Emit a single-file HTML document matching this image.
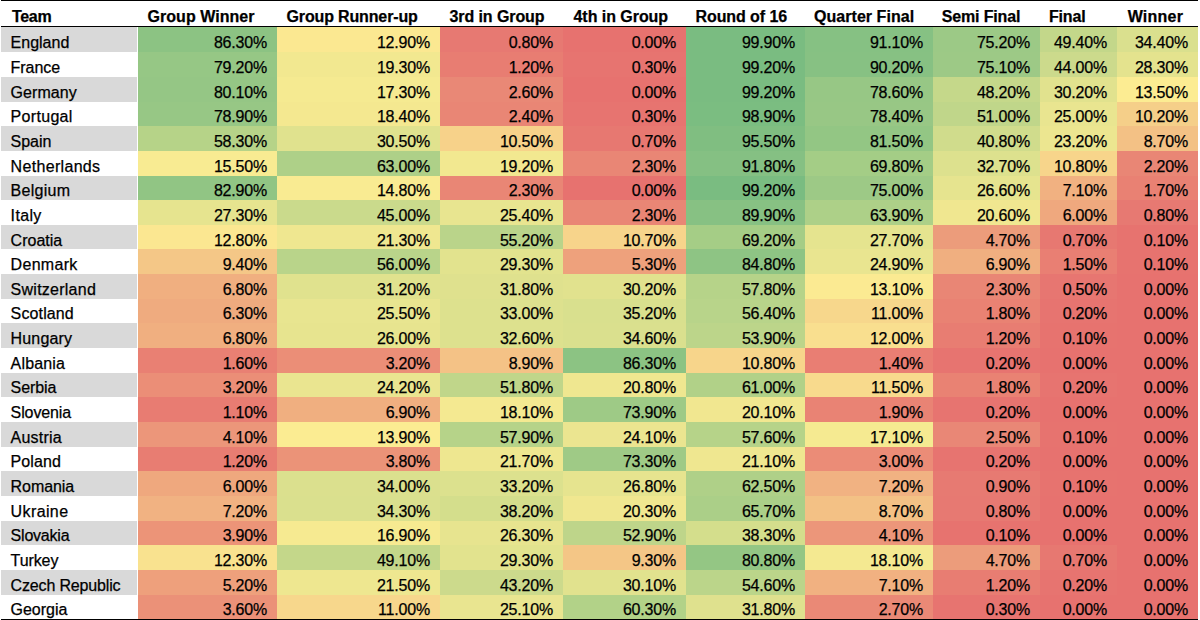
<!DOCTYPE html>
<html><head><meta charset="utf-8"><style>
html,body{margin:0;padding:0;background:#fff;}
body{width:1200px;height:620px;overflow:hidden;position:relative;font-family:"Liberation Sans",sans-serif;color:#000;}
.c{position:absolute;}
.t{position:absolute;font-size:16px;line-height:16px;white-space:nowrap;letter-spacing:-0.2px;-webkit-text-stroke:0.25px #000;}
.h{font-weight:bold;letter-spacing:-0.18px;}
.r{text-align:right;}
.ln{position:absolute;background:#000;}
</style></head><body>

<div class="t h" style="left:11.9px;top:9px;letter-spacing:-0.280px">Team</div>
<div class="t h" style="left:147.5px;top:9px;letter-spacing:0.047px">Group Winner</div>
<div class="t h" style="left:286.5px;top:9px;letter-spacing:-0.144px">Group Runner-up</div>
<div class="t h" style="left:449.5px;top:9px;letter-spacing:-0.089px">3rd in Group</div>
<div class="t h" style="left:573.5px;top:9px;letter-spacing:-0.044px">4th in Group</div>
<div class="t h" style="left:695.5px;top:9px;letter-spacing:-0.080px">Round of 16</div>
<div class="t h" style="left:814px;top:9px;letter-spacing:0.045px">Quarter Final</div>
<div class="t h" style="left:941.7px;top:9px;letter-spacing:-0.147px">Semi Final</div>
<div class="t h" style="left:1049px;top:9px;letter-spacing:-0.180px">Final</div>
<div class="t h" style="left:1127.7px;top:9px;letter-spacing:0.220px">Winner</div>
<div class="c" style="left:1px;top:27px;width:136px;height:25px;background:#d9d9d9"></div>
<div class="c" style="left:138px;top:27px;width:139px;height:25px;background:#8cc383"></div>
<div class="c" style="left:277px;top:27px;width:163px;height:25px;background:#fbe891"></div>
<div class="c" style="left:440px;top:27px;width:123px;height:25px;background:#e77972"></div>
<div class="c" style="left:563px;top:27px;width:123px;height:25px;background:#e7726f"></div>
<div class="c" style="left:686px;top:27px;width:119px;height:25px;background:#7abc81"></div>
<div class="c" style="left:805px;top:27px;width:128px;height:25px;background:#86c183"></div>
<div class="c" style="left:933px;top:27px;width:107px;height:25px;background:#9cc986"></div>
<div class="c" style="left:1040px;top:27px;width:77px;height:25px;background:#c3d78a"></div>
<div class="c" style="left:1117px;top:27px;width:81px;height:25px;background:#dae08e"></div>
<div class="c" style="left:1px;top:52px;width:136px;height:25px;background:#ffffff"></div>
<div class="c" style="left:138px;top:52px;width:139px;height:25px;background:#96c785"></div>
<div class="c" style="left:277px;top:52px;width:163px;height:25px;background:#f2e890"></div>
<div class="c" style="left:440px;top:52px;width:123px;height:25px;background:#e87d72"></div>
<div class="c" style="left:563px;top:52px;width:123px;height:25px;background:#e77470"></div>
<div class="c" style="left:686px;top:52px;width:119px;height:25px;background:#7abc81"></div>
<div class="c" style="left:805px;top:52px;width:128px;height:25px;background:#87c183"></div>
<div class="c" style="left:933px;top:52px;width:107px;height:25px;background:#9dc986"></div>
<div class="c" style="left:1040px;top:52px;width:77px;height:25px;background:#ccda8c"></div>
<div class="c" style="left:1117px;top:52px;width:81px;height:25px;background:#e4e38e"></div>
<div class="c" style="left:1px;top:77px;width:136px;height:25px;background:#d9d9d9"></div>
<div class="c" style="left:138px;top:77px;width:139px;height:25px;background:#95c685"></div>
<div class="c" style="left:277px;top:77px;width:163px;height:25px;background:#f5ea91"></div>
<div class="c" style="left:440px;top:77px;width:123px;height:25px;background:#e98876"></div>
<div class="c" style="left:563px;top:77px;width:123px;height:25px;background:#e7726f"></div>
<div class="c" style="left:686px;top:77px;width:119px;height:25px;background:#7abc81"></div>
<div class="c" style="left:805px;top:77px;width:128px;height:25px;background:#97c785"></div>
<div class="c" style="left:933px;top:77px;width:107px;height:25px;background:#c5d88a"></div>
<div class="c" style="left:1040px;top:77px;width:77px;height:25px;background:#e1e28e"></div>
<div class="c" style="left:1117px;top:77px;width:81px;height:25px;background:#fcec92"></div>
<div class="c" style="left:1px;top:102px;width:136px;height:24px;background:#ffffff"></div>
<div class="c" style="left:138px;top:102px;width:139px;height:24px;background:#97c785"></div>
<div class="c" style="left:277px;top:102px;width:163px;height:24px;background:#f4e890"></div>
<div class="c" style="left:440px;top:102px;width:123px;height:24px;background:#e98675"></div>
<div class="c" style="left:563px;top:102px;width:123px;height:24px;background:#e77470"></div>
<div class="c" style="left:686px;top:102px;width:119px;height:24px;background:#7bbd81"></div>
<div class="c" style="left:805px;top:102px;width:128px;height:24px;background:#98c785"></div>
<div class="c" style="left:933px;top:102px;width:107px;height:24px;background:#c0d68a"></div>
<div class="c" style="left:1040px;top:102px;width:77px;height:24px;background:#e9e590"></div>
<div class="c" style="left:1117px;top:102px;width:81px;height:24px;background:#f5cf89"></div>
<div class="c" style="left:1px;top:126px;width:136px;height:25px;background:#d9d9d9"></div>
<div class="c" style="left:138px;top:126px;width:139px;height:25px;background:#b6d388"></div>
<div class="c" style="left:277px;top:126px;width:163px;height:25px;background:#e0e28e"></div>
<div class="c" style="left:440px;top:126px;width:123px;height:25px;background:#f7d28a"></div>
<div class="c" style="left:563px;top:126px;width:123px;height:25px;background:#e77871"></div>
<div class="c" style="left:686px;top:126px;width:119px;height:25px;background:#80be81"></div>
<div class="c" style="left:805px;top:126px;width:128px;height:25px;background:#93c684"></div>
<div class="c" style="left:933px;top:126px;width:107px;height:25px;background:#d0dc8c"></div>
<div class="c" style="left:1040px;top:126px;width:77px;height:25px;background:#ece690"></div>
<div class="c" style="left:1117px;top:126px;width:81px;height:25px;background:#f3c185"></div>
<div class="c" style="left:1px;top:151px;width:136px;height:25px;background:#ffffff"></div>
<div class="c" style="left:138px;top:151px;width:139px;height:25px;background:#f8eb92"></div>
<div class="c" style="left:277px;top:151px;width:163px;height:25px;background:#aed088"></div>
<div class="c" style="left:440px;top:151px;width:123px;height:25px;background:#f2e890"></div>
<div class="c" style="left:563px;top:151px;width:123px;height:25px;background:#e98675"></div>
<div class="c" style="left:686px;top:151px;width:119px;height:25px;background:#85c083"></div>
<div class="c" style="left:805px;top:151px;width:128px;height:25px;background:#a4cd86"></div>
<div class="c" style="left:933px;top:151px;width:107px;height:25px;background:#dde18e"></div>
<div class="c" style="left:1040px;top:151px;width:77px;height:25px;background:#f7d58b"></div>
<div class="c" style="left:1117px;top:151px;width:81px;height:25px;background:#e98675"></div>
<div class="c" style="left:1px;top:176px;width:136px;height:24px;background:#d9d9d9"></div>
<div class="c" style="left:138px;top:176px;width:139px;height:24px;background:#91c584"></div>
<div class="c" style="left:277px;top:176px;width:163px;height:24px;background:#f9eb92"></div>
<div class="c" style="left:440px;top:176px;width:123px;height:24px;background:#e98675"></div>
<div class="c" style="left:563px;top:176px;width:123px;height:24px;background:#e7726f"></div>
<div class="c" style="left:686px;top:176px;width:119px;height:24px;background:#7abc81"></div>
<div class="c" style="left:805px;top:176px;width:128px;height:24px;background:#9dc986"></div>
<div class="c" style="left:933px;top:176px;width:107px;height:24px;background:#e6e48f"></div>
<div class="c" style="left:1040px;top:176px;width:77px;height:24px;background:#f1b181"></div>
<div class="c" style="left:1117px;top:176px;width:81px;height:24px;background:#e98173"></div>
<div class="c" style="left:1px;top:200px;width:136px;height:25px;background:#ffffff"></div>
<div class="c" style="left:138px;top:200px;width:139px;height:25px;background:#e6e48f"></div>
<div class="c" style="left:277px;top:200px;width:163px;height:25px;background:#cada8c"></div>
<div class="c" style="left:440px;top:200px;width:123px;height:25px;background:#e8e590"></div>
<div class="c" style="left:563px;top:200px;width:123px;height:25px;background:#e98675"></div>
<div class="c" style="left:686px;top:200px;width:119px;height:25px;background:#87c183"></div>
<div class="c" style="left:805px;top:200px;width:128px;height:25px;background:#add088"></div>
<div class="c" style="left:933px;top:200px;width:107px;height:25px;background:#f0e790"></div>
<div class="c" style="left:1040px;top:200px;width:77px;height:25px;background:#efa87e"></div>
<div class="c" style="left:1117px;top:200px;width:81px;height:25px;background:#e77972"></div>
<div class="c" style="left:1px;top:225px;width:136px;height:24px;background:#d9d9d9"></div>
<div class="c" style="left:138px;top:225px;width:139px;height:24px;background:#fbe791"></div>
<div class="c" style="left:277px;top:225px;width:163px;height:24px;background:#efe790"></div>
<div class="c" style="left:440px;top:225px;width:123px;height:24px;background:#bad48a"></div>
<div class="c" style="left:563px;top:225px;width:123px;height:24px;background:#f7d48b"></div>
<div class="c" style="left:686px;top:225px;width:119px;height:24px;background:#a5cd86"></div>
<div class="c" style="left:805px;top:225px;width:128px;height:24px;background:#e5e48f"></div>
<div class="c" style="left:933px;top:225px;width:107px;height:24px;background:#ec9c7b"></div>
<div class="c" style="left:1040px;top:225px;width:77px;height:24px;background:#e77871"></div>
<div class="c" style="left:1117px;top:225px;width:81px;height:24px;background:#e7736f"></div>
<div class="c" style="left:1px;top:249px;width:136px;height:25px;background:#ffffff"></div>
<div class="c" style="left:138px;top:249px;width:139px;height:25px;background:#f4c787"></div>
<div class="c" style="left:277px;top:249px;width:163px;height:25px;background:#b9d48a"></div>
<div class="c" style="left:440px;top:249px;width:123px;height:25px;background:#e2e38e"></div>
<div class="c" style="left:563px;top:249px;width:123px;height:25px;background:#eea17c"></div>
<div class="c" style="left:686px;top:249px;width:119px;height:25px;background:#8ec484"></div>
<div class="c" style="left:805px;top:249px;width:128px;height:25px;background:#e9e590"></div>
<div class="c" style="left:933px;top:249px;width:107px;height:25px;background:#f0af80"></div>
<div class="c" style="left:1040px;top:249px;width:77px;height:25px;background:#e97f73"></div>
<div class="c" style="left:1117px;top:249px;width:81px;height:25px;background:#e7736f"></div>
<div class="c" style="left:1px;top:274px;width:136px;height:25px;background:#d9d9d9"></div>
<div class="c" style="left:138px;top:274px;width:139px;height:25px;background:#f0af80"></div>
<div class="c" style="left:277px;top:274px;width:163px;height:25px;background:#e0e28e"></div>
<div class="c" style="left:440px;top:274px;width:123px;height:25px;background:#dfe18e"></div>
<div class="c" style="left:563px;top:274px;width:123px;height:25px;background:#e1e28e"></div>
<div class="c" style="left:686px;top:274px;width:119px;height:25px;background:#b6d389"></div>
<div class="c" style="left:805px;top:274px;width:128px;height:25px;background:#fbea92"></div>
<div class="c" style="left:933px;top:274px;width:107px;height:25px;background:#e98675"></div>
<div class="c" style="left:1040px;top:274px;width:77px;height:25px;background:#e77671"></div>
<div class="c" style="left:1117px;top:274px;width:81px;height:25px;background:#e7726f"></div>
<div class="c" style="left:1px;top:299px;width:136px;height:24px;background:#ffffff"></div>
<div class="c" style="left:138px;top:299px;width:139px;height:24px;background:#efab7f"></div>
<div class="c" style="left:277px;top:299px;width:163px;height:24px;background:#e8e590"></div>
<div class="c" style="left:440px;top:299px;width:123px;height:24px;background:#dde18e"></div>
<div class="c" style="left:563px;top:299px;width:123px;height:24px;background:#d9e08e"></div>
<div class="c" style="left:686px;top:299px;width:119px;height:24px;background:#b8d48a"></div>
<div class="c" style="left:805px;top:299px;width:128px;height:24px;background:#f7d78c"></div>
<div class="c" style="left:933px;top:299px;width:107px;height:24px;background:#e98273"></div>
<div class="c" style="left:1040px;top:299px;width:77px;height:24px;background:#e77470"></div>
<div class="c" style="left:1117px;top:299px;width:81px;height:24px;background:#e7726f"></div>
<div class="c" style="left:1px;top:323px;width:136px;height:25px;background:#d9d9d9"></div>
<div class="c" style="left:138px;top:323px;width:139px;height:25px;background:#f0af80"></div>
<div class="c" style="left:277px;top:323px;width:163px;height:25px;background:#e7e48f"></div>
<div class="c" style="left:440px;top:323px;width:123px;height:25px;background:#dde18e"></div>
<div class="c" style="left:563px;top:323px;width:123px;height:25px;background:#dae08e"></div>
<div class="c" style="left:686px;top:323px;width:119px;height:25px;background:#bcd58a"></div>
<div class="c" style="left:805px;top:323px;width:128px;height:25px;background:#f9df8f"></div>
<div class="c" style="left:933px;top:323px;width:107px;height:25px;background:#e87d72"></div>
<div class="c" style="left:1040px;top:323px;width:77px;height:25px;background:#e7736f"></div>
<div class="c" style="left:1117px;top:323px;width:81px;height:25px;background:#e7726f"></div>
<div class="c" style="left:1px;top:348px;width:136px;height:25px;background:#ffffff"></div>
<div class="c" style="left:138px;top:348px;width:139px;height:25px;background:#e98073"></div>
<div class="c" style="left:277px;top:348px;width:163px;height:25px;background:#eb8e77"></div>
<div class="c" style="left:440px;top:348px;width:123px;height:25px;background:#f4c286"></div>
<div class="c" style="left:563px;top:348px;width:123px;height:25px;background:#8cc383"></div>
<div class="c" style="left:686px;top:348px;width:119px;height:25px;background:#f7d58b"></div>
<div class="c" style="left:805px;top:348px;width:128px;height:25px;background:#e97e73"></div>
<div class="c" style="left:933px;top:348px;width:107px;height:25px;background:#e77470"></div>
<div class="c" style="left:1040px;top:348px;width:77px;height:25px;background:#e7726f"></div>
<div class="c" style="left:1117px;top:348px;width:81px;height:25px;background:#e7726f"></div>
<div class="c" style="left:1px;top:373px;width:136px;height:24px;background:#d9d9d9"></div>
<div class="c" style="left:138px;top:373px;width:139px;height:24px;background:#eb8e77"></div>
<div class="c" style="left:277px;top:373px;width:163px;height:24px;background:#eae590"></div>
<div class="c" style="left:440px;top:373px;width:123px;height:24px;background:#c0d68a"></div>
<div class="c" style="left:563px;top:373px;width:123px;height:24px;background:#efe790"></div>
<div class="c" style="left:686px;top:373px;width:119px;height:24px;background:#b1d188"></div>
<div class="c" style="left:805px;top:373px;width:128px;height:24px;background:#f8da8d"></div>
<div class="c" style="left:933px;top:373px;width:107px;height:24px;background:#e98273"></div>
<div class="c" style="left:1040px;top:373px;width:77px;height:24px;background:#e77470"></div>
<div class="c" style="left:1117px;top:373px;width:81px;height:24px;background:#e7726f"></div>
<div class="c" style="left:1px;top:397px;width:136px;height:25px;background:#ffffff"></div>
<div class="c" style="left:138px;top:397px;width:139px;height:25px;background:#e87c72"></div>
<div class="c" style="left:277px;top:397px;width:163px;height:25px;background:#f0af80"></div>
<div class="c" style="left:440px;top:397px;width:123px;height:25px;background:#f4e991"></div>
<div class="c" style="left:563px;top:397px;width:123px;height:25px;background:#9eca86"></div>
<div class="c" style="left:686px;top:397px;width:119px;height:25px;background:#f1e790"></div>
<div class="c" style="left:805px;top:397px;width:128px;height:25px;background:#e98374"></div>
<div class="c" style="left:933px;top:397px;width:107px;height:25px;background:#e77470"></div>
<div class="c" style="left:1040px;top:397px;width:77px;height:25px;background:#e7726f"></div>
<div class="c" style="left:1117px;top:397px;width:81px;height:25px;background:#e7726f"></div>
<div class="c" style="left:1px;top:422px;width:136px;height:25px;background:#d9d9d9"></div>
<div class="c" style="left:138px;top:422px;width:139px;height:25px;background:#ec967a"></div>
<div class="c" style="left:277px;top:422px;width:163px;height:25px;background:#fbec92"></div>
<div class="c" style="left:440px;top:422px;width:123px;height:25px;background:#b6d389"></div>
<div class="c" style="left:563px;top:422px;width:123px;height:25px;background:#ebe590"></div>
<div class="c" style="left:686px;top:422px;width:119px;height:25px;background:#b6d389"></div>
<div class="c" style="left:805px;top:422px;width:128px;height:25px;background:#f5ea91"></div>
<div class="c" style="left:933px;top:422px;width:107px;height:25px;background:#e98776"></div>
<div class="c" style="left:1040px;top:422px;width:77px;height:25px;background:#e7736f"></div>
<div class="c" style="left:1117px;top:422px;width:81px;height:25px;background:#e7726f"></div>
<div class="c" style="left:1px;top:447px;width:136px;height:24px;background:#ffffff"></div>
<div class="c" style="left:138px;top:447px;width:139px;height:24px;background:#e87d72"></div>
<div class="c" style="left:277px;top:447px;width:163px;height:24px;background:#eb9378"></div>
<div class="c" style="left:440px;top:447px;width:123px;height:24px;background:#eee790"></div>
<div class="c" style="left:563px;top:447px;width:123px;height:24px;background:#9fca86"></div>
<div class="c" style="left:686px;top:447px;width:119px;height:24px;background:#efe790"></div>
<div class="c" style="left:805px;top:447px;width:128px;height:24px;background:#eb8c77"></div>
<div class="c" style="left:933px;top:447px;width:107px;height:24px;background:#e77470"></div>
<div class="c" style="left:1040px;top:447px;width:77px;height:24px;background:#e7726f"></div>
<div class="c" style="left:1117px;top:447px;width:81px;height:24px;background:#e7726f"></div>
<div class="c" style="left:1px;top:471px;width:136px;height:25px;background:#d9d9d9"></div>
<div class="c" style="left:138px;top:471px;width:139px;height:25px;background:#efa87e"></div>
<div class="c" style="left:277px;top:471px;width:163px;height:25px;background:#dbe08e"></div>
<div class="c" style="left:440px;top:471px;width:123px;height:25px;background:#dce18e"></div>
<div class="c" style="left:563px;top:471px;width:123px;height:25px;background:#e6e48f"></div>
<div class="c" style="left:686px;top:471px;width:119px;height:25px;background:#afd088"></div>
<div class="c" style="left:805px;top:471px;width:128px;height:25px;background:#f1b282"></div>
<div class="c" style="left:933px;top:471px;width:107px;height:25px;background:#e77a72"></div>
<div class="c" style="left:1040px;top:471px;width:77px;height:25px;background:#e7736f"></div>
<div class="c" style="left:1117px;top:471px;width:81px;height:25px;background:#e7726f"></div>
<div class="c" style="left:1px;top:496px;width:136px;height:25px;background:#ffffff"></div>
<div class="c" style="left:138px;top:496px;width:139px;height:25px;background:#f1b282"></div>
<div class="c" style="left:277px;top:496px;width:163px;height:25px;background:#dae08e"></div>
<div class="c" style="left:440px;top:496px;width:123px;height:25px;background:#d4de8c"></div>
<div class="c" style="left:563px;top:496px;width:123px;height:25px;background:#f0e790"></div>
<div class="c" style="left:686px;top:496px;width:119px;height:25px;background:#abcf88"></div>
<div class="c" style="left:805px;top:496px;width:128px;height:25px;background:#f3c185"></div>
<div class="c" style="left:933px;top:496px;width:107px;height:25px;background:#e77972"></div>
<div class="c" style="left:1040px;top:496px;width:77px;height:25px;background:#e7726f"></div>
<div class="c" style="left:1117px;top:496px;width:81px;height:25px;background:#e7726f"></div>
<div class="c" style="left:1px;top:521px;width:136px;height:24px;background:#d9d9d9"></div>
<div class="c" style="left:138px;top:521px;width:139px;height:24px;background:#ec9478"></div>
<div class="c" style="left:277px;top:521px;width:163px;height:24px;background:#f6ea91"></div>
<div class="c" style="left:440px;top:521px;width:123px;height:24px;background:#e7e48f"></div>
<div class="c" style="left:563px;top:521px;width:123px;height:24px;background:#bed58a"></div>
<div class="c" style="left:686px;top:521px;width:119px;height:24px;background:#d4de8c"></div>
<div class="c" style="left:805px;top:521px;width:128px;height:24px;background:#ec967a"></div>
<div class="c" style="left:933px;top:521px;width:107px;height:24px;background:#e7736f"></div>
<div class="c" style="left:1040px;top:521px;width:77px;height:24px;background:#e7726f"></div>
<div class="c" style="left:1117px;top:521px;width:81px;height:24px;background:#e7726f"></div>
<div class="c" style="left:1px;top:545px;width:136px;height:25px;background:#ffffff"></div>
<div class="c" style="left:138px;top:545px;width:139px;height:25px;background:#f9e28f"></div>
<div class="c" style="left:277px;top:545px;width:163px;height:25px;background:#c4d78a"></div>
<div class="c" style="left:440px;top:545px;width:123px;height:25px;background:#e2e38e"></div>
<div class="c" style="left:563px;top:545px;width:123px;height:25px;background:#f4c686"></div>
<div class="c" style="left:686px;top:545px;width:119px;height:25px;background:#94c684"></div>
<div class="c" style="left:805px;top:545px;width:128px;height:25px;background:#f4e991"></div>
<div class="c" style="left:933px;top:545px;width:107px;height:25px;background:#ec9c7b"></div>
<div class="c" style="left:1040px;top:545px;width:77px;height:25px;background:#e77871"></div>
<div class="c" style="left:1117px;top:545px;width:81px;height:25px;background:#e7726f"></div>
<div class="c" style="left:1px;top:570px;width:136px;height:25px;background:#d9d9d9"></div>
<div class="c" style="left:138px;top:570px;width:139px;height:25px;background:#eea07c"></div>
<div class="c" style="left:277px;top:570px;width:163px;height:25px;background:#eee790"></div>
<div class="c" style="left:440px;top:570px;width:123px;height:25px;background:#ccda8c"></div>
<div class="c" style="left:563px;top:570px;width:123px;height:25px;background:#e1e28e"></div>
<div class="c" style="left:686px;top:570px;width:119px;height:25px;background:#bbd58a"></div>
<div class="c" style="left:805px;top:570px;width:128px;height:25px;background:#f1b181"></div>
<div class="c" style="left:933px;top:570px;width:107px;height:25px;background:#e87d72"></div>
<div class="c" style="left:1040px;top:570px;width:77px;height:25px;background:#e77470"></div>
<div class="c" style="left:1117px;top:570px;width:81px;height:25px;background:#e7726f"></div>
<div class="c" style="left:1px;top:595px;width:136px;height:24px;background:#ffffff"></div>
<div class="c" style="left:138px;top:595px;width:139px;height:24px;background:#eb9178"></div>
<div class="c" style="left:277px;top:595px;width:163px;height:24px;background:#f7d78c"></div>
<div class="c" style="left:440px;top:595px;width:123px;height:24px;background:#e9e590"></div>
<div class="c" style="left:563px;top:595px;width:123px;height:24px;background:#b2d288"></div>
<div class="c" style="left:686px;top:595px;width:119px;height:24px;background:#dfe18e"></div>
<div class="c" style="left:805px;top:595px;width:128px;height:24px;background:#ea8976"></div>
<div class="c" style="left:933px;top:595px;width:107px;height:24px;background:#e77470"></div>
<div class="c" style="left:1040px;top:595px;width:77px;height:24px;background:#e7726f"></div>
<div class="c" style="left:1117px;top:595px;width:81px;height:24px;background:#e7726f"></div>
<div class="t" style="left:10.6px;top:35.30px;letter-spacing:-0.000px">England</div>
<div class="t r" style="right:933.0px;top:35.30px">86.30%</div>
<div class="t r" style="right:770.0px;top:35.30px">12.90%</div>
<div class="t r" style="right:647.0px;top:35.30px">0.80%</div>
<div class="t r" style="right:524.0px;top:35.30px">0.00%</div>
<div class="t r" style="right:405.0px;top:35.30px">99.90%</div>
<div class="t r" style="right:277.0px;top:35.30px">91.10%</div>
<div class="t r" style="right:170.0px;top:35.30px">75.20%</div>
<div class="t r" style="right:93.0px;top:35.30px">49.40%</div>
<div class="t r" style="right:12.0px;top:35.30px">34.40%</div>
<div class="t" style="left:10.6px;top:59.95px;letter-spacing:-0.060px">France</div>
<div class="t r" style="right:933.0px;top:59.95px">79.20%</div>
<div class="t r" style="right:770.0px;top:59.95px">19.30%</div>
<div class="t r" style="right:647.0px;top:59.95px">1.20%</div>
<div class="t r" style="right:524.0px;top:59.95px">0.30%</div>
<div class="t r" style="right:405.0px;top:59.95px">99.20%</div>
<div class="t r" style="right:277.0px;top:59.95px">90.20%</div>
<div class="t r" style="right:170.0px;top:59.95px">75.10%</div>
<div class="t r" style="right:93.0px;top:59.95px">44.00%</div>
<div class="t r" style="right:12.0px;top:59.95px">28.30%</div>
<div class="t" style="left:10.6px;top:84.60px;letter-spacing:0.067px">Germany</div>
<div class="t r" style="right:933.0px;top:84.60px">80.10%</div>
<div class="t r" style="right:770.0px;top:84.60px">17.30%</div>
<div class="t r" style="right:647.0px;top:84.60px">2.60%</div>
<div class="t r" style="right:524.0px;top:84.60px">0.00%</div>
<div class="t r" style="right:405.0px;top:84.60px">99.20%</div>
<div class="t r" style="right:277.0px;top:84.60px">78.60%</div>
<div class="t r" style="right:170.0px;top:84.60px">48.20%</div>
<div class="t r" style="right:93.0px;top:84.60px">30.20%</div>
<div class="t r" style="right:12.0px;top:84.60px">13.50%</div>
<div class="t" style="left:10.6px;top:109.26px;letter-spacing:0.314px">Portugal</div>
<div class="t r" style="right:933.0px;top:109.26px">78.90%</div>
<div class="t r" style="right:770.0px;top:109.26px">18.40%</div>
<div class="t r" style="right:647.0px;top:109.26px">2.40%</div>
<div class="t r" style="right:524.0px;top:109.26px">0.30%</div>
<div class="t r" style="right:405.0px;top:109.26px">98.90%</div>
<div class="t r" style="right:277.0px;top:109.26px">78.40%</div>
<div class="t r" style="right:170.0px;top:109.26px">51.00%</div>
<div class="t r" style="right:93.0px;top:109.26px">25.00%</div>
<div class="t r" style="right:12.0px;top:109.26px">10.20%</div>
<div class="t" style="left:10.6px;top:133.91px;letter-spacing:-0.050px">Spain</div>
<div class="t r" style="right:933.0px;top:133.91px">58.30%</div>
<div class="t r" style="right:770.0px;top:133.91px">30.50%</div>
<div class="t r" style="right:647.0px;top:133.91px">10.50%</div>
<div class="t r" style="right:524.0px;top:133.91px">0.70%</div>
<div class="t r" style="right:405.0px;top:133.91px">95.50%</div>
<div class="t r" style="right:277.0px;top:133.91px">81.50%</div>
<div class="t r" style="right:170.0px;top:133.91px">40.80%</div>
<div class="t r" style="right:93.0px;top:133.91px">23.20%</div>
<div class="t r" style="right:12.0px;top:133.91px">8.70%</div>
<div class="t" style="left:10.6px;top:158.56px;letter-spacing:0.320px">Netherlands</div>
<div class="t r" style="right:933.0px;top:158.56px">15.50%</div>
<div class="t r" style="right:770.0px;top:158.56px">63.00%</div>
<div class="t r" style="right:647.0px;top:158.56px">19.20%</div>
<div class="t r" style="right:524.0px;top:158.56px">2.30%</div>
<div class="t r" style="right:405.0px;top:158.56px">91.80%</div>
<div class="t r" style="right:277.0px;top:158.56px">69.80%</div>
<div class="t r" style="right:170.0px;top:158.56px">32.70%</div>
<div class="t r" style="right:93.0px;top:158.56px">10.80%</div>
<div class="t r" style="right:12.0px;top:158.56px">2.20%</div>
<div class="t" style="left:10.6px;top:183.21px;letter-spacing:0.283px">Belgium</div>
<div class="t r" style="right:933.0px;top:183.21px">82.90%</div>
<div class="t r" style="right:770.0px;top:183.21px">14.80%</div>
<div class="t r" style="right:647.0px;top:183.21px">2.30%</div>
<div class="t r" style="right:524.0px;top:183.21px">0.00%</div>
<div class="t r" style="right:405.0px;top:183.21px">99.20%</div>
<div class="t r" style="right:277.0px;top:183.21px">75.00%</div>
<div class="t r" style="right:170.0px;top:183.21px">26.60%</div>
<div class="t r" style="right:93.0px;top:183.21px">7.10%</div>
<div class="t r" style="right:12.0px;top:183.21px">1.70%</div>
<div class="t" style="left:10.6px;top:207.86px;letter-spacing:0.350px">Italy</div>
<div class="t r" style="right:933.0px;top:207.86px">27.30%</div>
<div class="t r" style="right:770.0px;top:207.86px">45.00%</div>
<div class="t r" style="right:647.0px;top:207.86px">25.40%</div>
<div class="t r" style="right:524.0px;top:207.86px">2.30%</div>
<div class="t r" style="right:405.0px;top:207.86px">89.90%</div>
<div class="t r" style="right:277.0px;top:207.86px">63.90%</div>
<div class="t r" style="right:170.0px;top:207.86px">20.60%</div>
<div class="t r" style="right:93.0px;top:207.86px">6.00%</div>
<div class="t r" style="right:12.0px;top:207.86px">0.80%</div>
<div class="t" style="left:10.6px;top:232.52px;letter-spacing:-0.000px">Croatia</div>
<div class="t r" style="right:933.0px;top:232.52px">12.80%</div>
<div class="t r" style="right:770.0px;top:232.52px">21.30%</div>
<div class="t r" style="right:647.0px;top:232.52px">55.20%</div>
<div class="t r" style="right:524.0px;top:232.52px">10.70%</div>
<div class="t r" style="right:405.0px;top:232.52px">69.20%</div>
<div class="t r" style="right:277.0px;top:232.52px">27.70%</div>
<div class="t r" style="right:170.0px;top:232.52px">4.70%</div>
<div class="t r" style="right:93.0px;top:232.52px">0.70%</div>
<div class="t r" style="right:12.0px;top:232.52px">0.10%</div>
<div class="t" style="left:10.6px;top:257.17px;letter-spacing:0.300px">Denmark</div>
<div class="t r" style="right:933.0px;top:257.17px">9.40%</div>
<div class="t r" style="right:770.0px;top:257.17px">56.00%</div>
<div class="t r" style="right:647.0px;top:257.17px">29.30%</div>
<div class="t r" style="right:524.0px;top:257.17px">5.30%</div>
<div class="t r" style="right:405.0px;top:257.17px">84.80%</div>
<div class="t r" style="right:277.0px;top:257.17px">24.90%</div>
<div class="t r" style="right:170.0px;top:257.17px">6.90%</div>
<div class="t r" style="right:93.0px;top:257.17px">1.50%</div>
<div class="t r" style="right:12.0px;top:257.17px">0.10%</div>
<div class="t" style="left:10.6px;top:281.82px;letter-spacing:0.250px">Switzerland</div>
<div class="t r" style="right:933.0px;top:281.82px">6.80%</div>
<div class="t r" style="right:770.0px;top:281.82px">31.20%</div>
<div class="t r" style="right:647.0px;top:281.82px">31.80%</div>
<div class="t r" style="right:524.0px;top:281.82px">30.20%</div>
<div class="t r" style="right:405.0px;top:281.82px">57.80%</div>
<div class="t r" style="right:277.0px;top:281.82px">13.10%</div>
<div class="t r" style="right:170.0px;top:281.82px">2.30%</div>
<div class="t r" style="right:93.0px;top:281.82px">0.50%</div>
<div class="t r" style="right:12.0px;top:281.82px">0.00%</div>
<div class="t" style="left:10.6px;top:306.47px;letter-spacing:0.129px">Scotland</div>
<div class="t r" style="right:933.0px;top:306.47px">6.30%</div>
<div class="t r" style="right:770.0px;top:306.47px">25.50%</div>
<div class="t r" style="right:647.0px;top:306.47px">33.00%</div>
<div class="t r" style="right:524.0px;top:306.47px">35.20%</div>
<div class="t r" style="right:405.0px;top:306.47px">56.40%</div>
<div class="t r" style="right:277.0px;top:306.47px">11.00%</div>
<div class="t r" style="right:170.0px;top:306.47px">1.80%</div>
<div class="t r" style="right:93.0px;top:306.47px">0.20%</div>
<div class="t r" style="right:12.0px;top:306.47px">0.00%</div>
<div class="t" style="left:10.6px;top:331.12px;letter-spacing:0.150px">Hungary</div>
<div class="t r" style="right:933.0px;top:331.12px">6.80%</div>
<div class="t r" style="right:770.0px;top:331.12px">26.00%</div>
<div class="t r" style="right:647.0px;top:331.12px">32.60%</div>
<div class="t r" style="right:524.0px;top:331.12px">34.60%</div>
<div class="t r" style="right:405.0px;top:331.12px">53.90%</div>
<div class="t r" style="right:277.0px;top:331.12px">12.00%</div>
<div class="t r" style="right:170.0px;top:331.12px">1.20%</div>
<div class="t r" style="right:93.0px;top:331.12px">0.10%</div>
<div class="t r" style="right:12.0px;top:331.12px">0.00%</div>
<div class="t" style="left:10.6px;top:355.78px;letter-spacing:0.167px">Albania</div>
<div class="t r" style="right:933.0px;top:355.78px">1.60%</div>
<div class="t r" style="right:770.0px;top:355.78px">3.20%</div>
<div class="t r" style="right:647.0px;top:355.78px">8.90%</div>
<div class="t r" style="right:524.0px;top:355.78px">86.30%</div>
<div class="t r" style="right:405.0px;top:355.78px">10.80%</div>
<div class="t r" style="right:277.0px;top:355.78px">1.40%</div>
<div class="t r" style="right:170.0px;top:355.78px">0.20%</div>
<div class="t r" style="right:93.0px;top:355.78px">0.00%</div>
<div class="t r" style="right:12.0px;top:355.78px">0.00%</div>
<div class="t" style="left:10.6px;top:380.43px;letter-spacing:-0.080px">Serbia</div>
<div class="t r" style="right:933.0px;top:380.43px">3.20%</div>
<div class="t r" style="right:770.0px;top:380.43px">24.20%</div>
<div class="t r" style="right:647.0px;top:380.43px">51.80%</div>
<div class="t r" style="right:524.0px;top:380.43px">20.80%</div>
<div class="t r" style="right:405.0px;top:380.43px">61.00%</div>
<div class="t r" style="right:277.0px;top:380.43px">11.50%</div>
<div class="t r" style="right:170.0px;top:380.43px">1.80%</div>
<div class="t r" style="right:93.0px;top:380.43px">0.20%</div>
<div class="t r" style="right:12.0px;top:380.43px">0.00%</div>
<div class="t" style="left:10.6px;top:405.08px;letter-spacing:-0.114px">Slovenia</div>
<div class="t r" style="right:933.0px;top:405.08px">1.10%</div>
<div class="t r" style="right:770.0px;top:405.08px">6.90%</div>
<div class="t r" style="right:647.0px;top:405.08px">18.10%</div>
<div class="t r" style="right:524.0px;top:405.08px">73.90%</div>
<div class="t r" style="right:405.0px;top:405.08px">20.10%</div>
<div class="t r" style="right:277.0px;top:405.08px">1.90%</div>
<div class="t r" style="right:170.0px;top:405.08px">0.20%</div>
<div class="t r" style="right:93.0px;top:405.08px">0.00%</div>
<div class="t r" style="right:12.0px;top:405.08px">0.00%</div>
<div class="t" style="left:10.6px;top:429.73px;letter-spacing:0.217px">Austria</div>
<div class="t r" style="right:933.0px;top:429.73px">4.10%</div>
<div class="t r" style="right:770.0px;top:429.73px">13.90%</div>
<div class="t r" style="right:647.0px;top:429.73px">57.90%</div>
<div class="t r" style="right:524.0px;top:429.73px">24.10%</div>
<div class="t r" style="right:405.0px;top:429.73px">57.60%</div>
<div class="t r" style="right:277.0px;top:429.73px">17.10%</div>
<div class="t r" style="right:170.0px;top:429.73px">2.50%</div>
<div class="t r" style="right:93.0px;top:429.73px">0.10%</div>
<div class="t r" style="right:12.0px;top:429.73px">0.00%</div>
<div class="t" style="left:10.6px;top:454.38px;letter-spacing:0.080px">Poland</div>
<div class="t r" style="right:933.0px;top:454.38px">1.20%</div>
<div class="t r" style="right:770.0px;top:454.38px">3.80%</div>
<div class="t r" style="right:647.0px;top:454.38px">21.70%</div>
<div class="t r" style="right:524.0px;top:454.38px">73.30%</div>
<div class="t r" style="right:405.0px;top:454.38px">21.10%</div>
<div class="t r" style="right:277.0px;top:454.38px">3.00%</div>
<div class="t r" style="right:170.0px;top:454.38px">0.20%</div>
<div class="t r" style="right:93.0px;top:454.38px">0.00%</div>
<div class="t r" style="right:12.0px;top:454.38px">0.00%</div>
<div class="t" style="left:10.6px;top:479.04px;letter-spacing:-0.083px">Romania</div>
<div class="t r" style="right:933.0px;top:479.04px">6.00%</div>
<div class="t r" style="right:770.0px;top:479.04px">34.00%</div>
<div class="t r" style="right:647.0px;top:479.04px">33.20%</div>
<div class="t r" style="right:524.0px;top:479.04px">26.80%</div>
<div class="t r" style="right:405.0px;top:479.04px">62.50%</div>
<div class="t r" style="right:277.0px;top:479.04px">7.20%</div>
<div class="t r" style="right:170.0px;top:479.04px">0.90%</div>
<div class="t r" style="right:93.0px;top:479.04px">0.10%</div>
<div class="t r" style="right:12.0px;top:479.04px">0.00%</div>
<div class="t" style="left:10.6px;top:503.69px;letter-spacing:0.383px">Ukraine</div>
<div class="t r" style="right:933.0px;top:503.69px">7.20%</div>
<div class="t r" style="right:770.0px;top:503.69px">34.30%</div>
<div class="t r" style="right:647.0px;top:503.69px">38.20%</div>
<div class="t r" style="right:524.0px;top:503.69px">20.30%</div>
<div class="t r" style="right:405.0px;top:503.69px">65.70%</div>
<div class="t r" style="right:277.0px;top:503.69px">8.70%</div>
<div class="t r" style="right:170.0px;top:503.69px">0.80%</div>
<div class="t r" style="right:93.0px;top:503.69px">0.00%</div>
<div class="t r" style="right:12.0px;top:503.69px">0.00%</div>
<div class="t" style="left:10.6px;top:528.34px;letter-spacing:-0.214px">Slovakia</div>
<div class="t r" style="right:933.0px;top:528.34px">3.90%</div>
<div class="t r" style="right:770.0px;top:528.34px">16.90%</div>
<div class="t r" style="right:647.0px;top:528.34px">26.30%</div>
<div class="t r" style="right:524.0px;top:528.34px">52.90%</div>
<div class="t r" style="right:405.0px;top:528.34px">38.30%</div>
<div class="t r" style="right:277.0px;top:528.34px">4.10%</div>
<div class="t r" style="right:170.0px;top:528.34px">0.10%</div>
<div class="t r" style="right:93.0px;top:528.34px">0.00%</div>
<div class="t r" style="right:12.0px;top:528.34px">0.00%</div>
<div class="t" style="left:10.6px;top:552.99px;letter-spacing:-0.100px">Turkey</div>
<div class="t r" style="right:933.0px;top:552.99px">12.30%</div>
<div class="t r" style="right:770.0px;top:552.99px">49.10%</div>
<div class="t r" style="right:647.0px;top:552.99px">29.30%</div>
<div class="t r" style="right:524.0px;top:552.99px">9.30%</div>
<div class="t r" style="right:405.0px;top:552.99px">80.80%</div>
<div class="t r" style="right:277.0px;top:552.99px">18.10%</div>
<div class="t r" style="right:170.0px;top:552.99px">4.70%</div>
<div class="t r" style="right:93.0px;top:552.99px">0.70%</div>
<div class="t r" style="right:12.0px;top:552.99px">0.00%</div>
<div class="t" style="left:10.6px;top:577.64px;letter-spacing:-0.162px">Czech Republic</div>
<div class="t r" style="right:933.0px;top:577.64px">5.20%</div>
<div class="t r" style="right:770.0px;top:577.64px">21.50%</div>
<div class="t r" style="right:647.0px;top:577.64px">43.20%</div>
<div class="t r" style="right:524.0px;top:577.64px">30.10%</div>
<div class="t r" style="right:405.0px;top:577.64px">54.60%</div>
<div class="t r" style="right:277.0px;top:577.64px">7.10%</div>
<div class="t r" style="right:170.0px;top:577.64px">1.20%</div>
<div class="t r" style="right:93.0px;top:577.64px">0.20%</div>
<div class="t r" style="right:12.0px;top:577.64px">0.00%</div>
<div class="t" style="left:10.6px;top:602.30px;letter-spacing:-0.033px">Georgia</div>
<div class="t r" style="right:933.0px;top:602.30px">3.60%</div>
<div class="t r" style="right:770.0px;top:602.30px">11.00%</div>
<div class="t r" style="right:647.0px;top:602.30px">25.10%</div>
<div class="t r" style="right:524.0px;top:602.30px">60.30%</div>
<div class="t r" style="right:405.0px;top:602.30px">31.80%</div>
<div class="t r" style="right:277.0px;top:602.30px">2.70%</div>
<div class="t r" style="right:170.0px;top:602.30px">0.30%</div>
<div class="t r" style="right:93.0px;top:602.30px">0.00%</div>
<div class="t r" style="right:12.0px;top:602.30px">0.00%</div>
<div class="ln" style="left:1px;top:0;width:1197px;height:1px"></div>
<div class="ln" style="left:1px;top:26px;width:1197px;height:1px"></div>
<div class="ln" style="left:1px;top:619px;width:1197px;height:1px"></div>
</body></html>
